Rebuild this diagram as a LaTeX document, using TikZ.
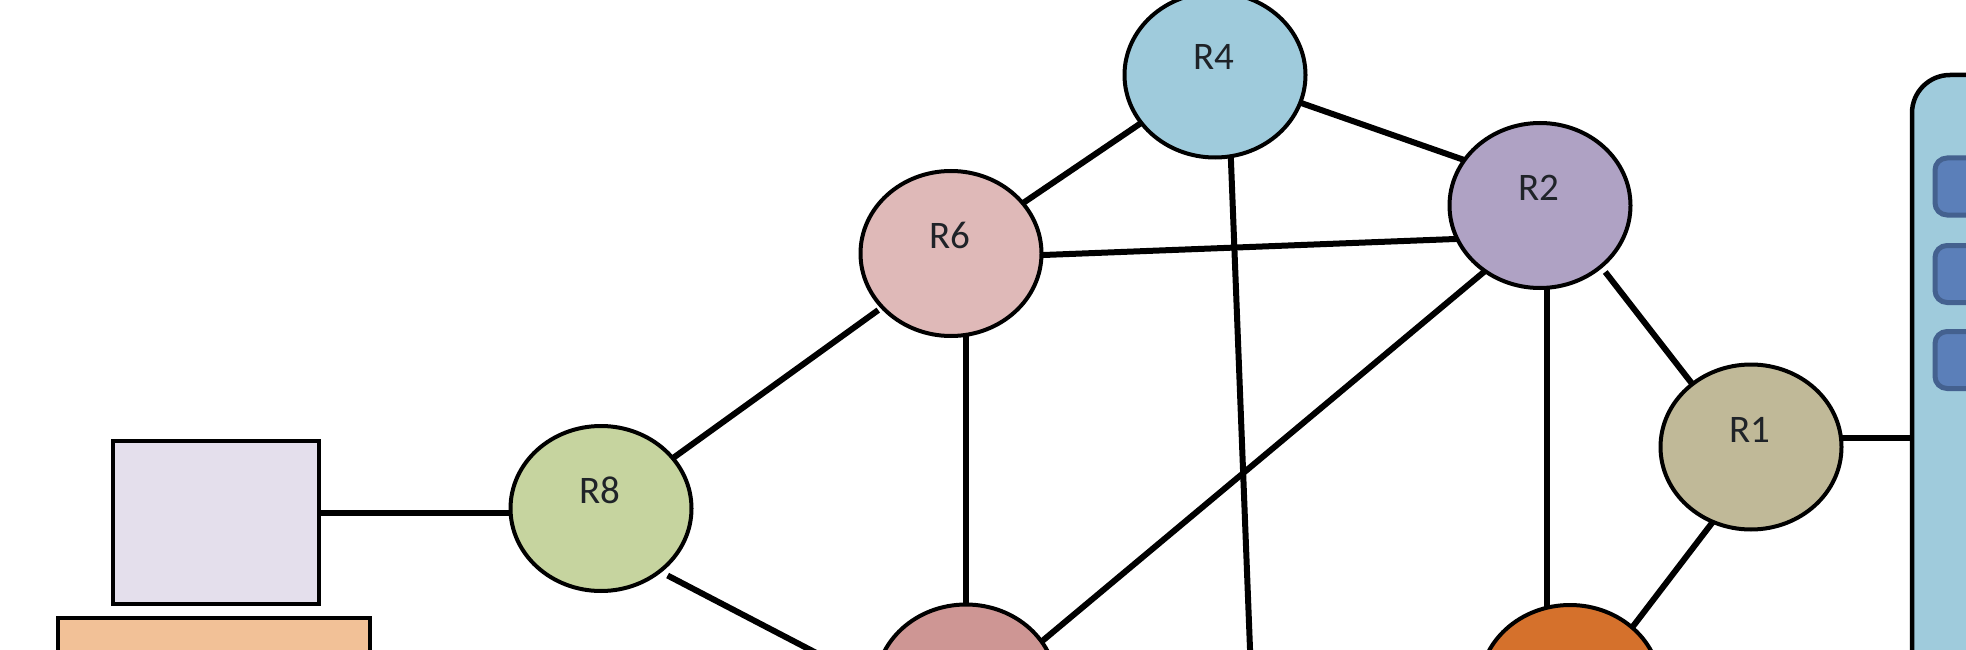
\documentclass[tikz,border=0pt]{standalone}
\usepackage{fontspec}
\setmainfont{Carlito}
\usetikzlibrary{shapes.geometric,shadows}
\definecolor{txt}{HTML}{1F2328}
\definecolor{cRfour}{HTML}{9FCBDC}
\definecolor{cRtwo}{HTML}{AFA2C4}
\definecolor{cRsix}{HTML}{DFB9B8}
\definecolor{cReight}{HTML}{C6D49F}
\definecolor{cRone}{HTML}{C0B998}
\definecolor{cPink}{HTML}{CE9694}
\definecolor{cOrange}{HTML}{D5712C}
\definecolor{cMon}{HTML}{E4DFEC}
\definecolor{cBase}{HTML}{F2C197}
\definecolor{cBtn}{HTML}{5B7FB9}
\definecolor{cBtnLine}{HTML}{44618F}
\definecolor{cShade}{HTML}{4F7FB5}
\newcommand{\rlabel}[1]{\smash{\raisebox{5pt}{\hspace{-3pt}\fontsize{39}{39}\selectfont\color{txt}#1}}}
\tikzset{
  router/.style={ellipse,draw=black,line width=4pt,minimum width=181pt,minimum height=165pt,
    inner sep=0pt,outer sep=0pt,general shadow={xshift=1.5pt,yshift=-1.5pt,fill=cShade}},
  link/.style={draw=black,line width=6pt},
  boxnode/.style={rectangle,draw=black,line width=4.5pt,inner sep=0pt,outer sep=0pt},
  btn/.style={rectangle,rounded corners=12pt,draw=cBtnLine,fill=cBtn,line width=5pt,
    minimum width=100pt,minimum height=57pt,inner sep=0pt,outer sep=0pt}
}
\begin{document}
\begin{tikzpicture}[x=1pt,y=-1pt]
\useasboundingbox (0,0) rectangle (1966,650);
\clip (0,0) rectangle (1966,650);
\fill[white] (0,0) rectangle (1966,650);
\node[router,fill=cRfour] (R4) at (1215,75) {\rlabel{R4}};
\node[router,fill=cRtwo] (R2) at (1540,205.5) {\rlabel{R2}};
\node[router,fill=cRsix] (R6) at (951,253.5) {\rlabel{R6}};
\node[router,fill=cReight] (R8) at (601,508.5) {\rlabel{R8}};
\node[router,fill=cRone] (R1) at (1751,447) {\rlabel{R1}};
\node[router,fill=cPink] (pink) at (966,687) {};
\node[router,fill=cOrange] (orange) at (1570,687.5) {};
\node[boxnode,fill=cMon,minimum width=206pt,minimum height=163pt] (mon) at (216,522.5) {};
\node[boxnode,fill=cBase,minimum width=312pt,minimum height=182pt] (base) at (214,709) {};
\node[boxnode,fill=cRfour,rounded corners=38pt,minimum width=188pt,minimum height=725pt] (panel) at (2006,437.5) {};
\node[btn] (b1) at (1985,186.5) {};
\node[btn] (b2) at (1985,274) {};
\node[btn] (b3) at (1985,360) {};
\coordinate (Rfourend) at (1252,700);
\draw[link] (R4.213.5) -- (R6.35.3);
\draw[link] (R4.-18) -- (R2.149);
\draw[link] (R6.-1) -- (R2.202);
\draw[link] (R4.-79.2) -- (Rfourend);
\draw[link] (R2.230) -- (pink.31.5);
\draw[link] (R2.-85) -- (R2.-85 |- orange.105.3);
\draw[link,shorten <=7pt] (R2.-45) -- (R1.133.6);
\draw[link] (R1.6) -- (R1.6 -| panel.west);
\draw[link] (R1.243.7) -- (orange.44.5);
\draw[link,shorten <=5pt] (R6.218.7) -- (R8.35);
\draw[link] (pink.north) -- (pink.north |- R6.-79);
\draw[link,shorten <=9pt] (R8.-47) -- (pink.178);
\draw[link] (R8.183 -| mon.east) -- (R8.183);
\end{tikzpicture}
\end{document}
